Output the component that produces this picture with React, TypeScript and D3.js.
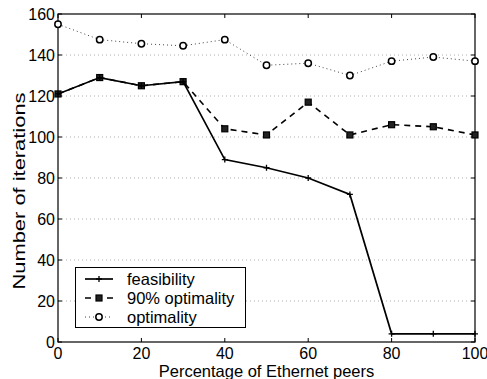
import React, { useEffect, useRef } from "react";
import * as d3 from "d3";

const percents = [0, 10, 20, 30, 40, 50, 60, 70, 80, 90, 100];
const feasibility = [121, 129, 125, 127, 89, 85, 80, 72, 4, 4, 4];
const optimality90 = [121, 129, 125, 127, 104, 101, 117, 101, 106, 105, 101];
const optimality = [155, 147.5, 145.5, 144.5, 147.5, 135, 136, 130, 137, 139, 137];
const xTicks = [0, 20, 40, 60, 80, 100];
const yTicks = [0, 20, 40, 60, 80, 100, 120, 140, 160];
const legendLabels = ["feasibility", "90% optimality", "optimality"];

const W = 487;
const H = 379;
const m = { left: 58, right: 12, top: 14, bottom: 37 };
const FONT = "'Liberation Sans', Arial, Helvetica, sans-serif";

function App() {
  const ref = useRef<SVGSVGElement>(null);

  useEffect(() => {
    const svg = d3.select(ref.current);
    svg.selectAll("*").remove();

    const x = d3.scaleLinear().domain([0, 100]).range([m.left, W - m.right]);
    const y = d3.scaleLinear().domain([0, 160]).range([H - m.bottom, m.top]);
    const x0 = x(0), x1 = x(100), y0 = y(0), y1 = y(160);

    // horizontal dotted grid
    svg
      .append("g")
      .selectAll("line")
      .data(yTicks.slice(1, -1))
      .join("line")
      .attr("x1", x0)
      .attr("x2", x1)
      .attr("y1", (d) => y(d))
      .attr("y2", (d) => y(d))
      .attr("stroke", "#999")
      .attr("stroke-width", 0.8)
      .attr("stroke-dasharray", "1,3");

    // frame
    svg
      .append("rect")
      .attr("x", x0)
      .attr("y", y1)
      .attr("width", x1 - x0)
      .attr("height", y0 - y1)
      .attr("fill", "none")
      .attr("stroke", "#000")
      .attr("stroke-width", 1.2);

    // inward ticks on all four sides
    const tk = svg.append("g").attr("stroke", "#000").attr("stroke-width", 1);
    xTicks.forEach((t) => {
      tk.append("line").attr("x1", x(t)).attr("x2", x(t)).attr("y1", y0).attr("y2", y0 - 4);
      tk.append("line").attr("x1", x(t)).attr("x2", x(t)).attr("y1", y1).attr("y2", y1 + 4);
    });
    yTicks.forEach((t) => {
      tk.append("line").attr("x1", x0).attr("x2", x0 + 4).attr("y1", y(t)).attr("y2", y(t));
      tk.append("line").attr("x1", x1).attr("x2", x1 - 4).attr("y1", y(t)).attr("y2", y(t));
    });

    // tick labels
    svg
      .append("g")
      .selectAll("text")
      .data(xTicks)
      .join("text")
      .attr("x", (d) => x(d))
      .attr("y", y0 + 17)
      .attr("text-anchor", "middle")
      .attr("font-family", FONT)
      .attr("font-size", 16)
      .text((d) => d);
    svg
      .append("g")
      .selectAll("text")
      .data(yTicks)
      .join("text")
      .attr("x", x0 - 3)
      .attr("y", (d) => y(d) + 6)
      .attr("text-anchor", "end")
      .attr("font-family", FONT)
      .attr("font-size", 16)
      .text((d) => d);

    // axis titles
    svg
      .append("text")
      .attr("x", (x0 + x1) / 2)
      .attr("y", H - 2)
      .attr("text-anchor", "middle")
      .attr("font-family", FONT)
      .attr("font-size", 16.5)
      .text("Percentage of Ethernet peers");
    // the y title is stretched along its length in the original
    svg
      .append("text")
      .attr("transform", `translate(25,191) rotate(-90)`)
      .attr("text-anchor", "middle")
      .attr("font-family", FONT)
      .attr("font-size", 17)
      .attr("textLength", 197)
      .attr("lengthAdjust", "spacingAndGlyphs")
      .text("Number of iterations");

    const mk = (vals: number[]) =>
      d3.line<number>().x((_, i) => x(percents[i])).y((v) => y(v))(vals);

    const styles = [
      { vals: optimality, dash: "1,3", width: 1, color: "#444", marker: "circle" },
      { vals: optimality90, dash: "6,5", width: 1.6, color: "#000", marker: "square" },
      { vals: feasibility, dash: null, width: 1.7, color: "#000", marker: "plus" },
    ];

    const drawMarker = (g: any, kind: string, cx: number, cy: number) => {
      if (kind === "circle") {
        g.append("circle").attr("cx", cx).attr("cy", cy).attr("r", 3.2)
          .attr("fill", "#fff").attr("stroke", "#000").attr("stroke-width", 1.5);
      } else if (kind === "square") {
        g.append("rect").attr("x", cx - 3).attr("y", cy - 3).attr("width", 6).attr("height", 6)
          .attr("fill", "#222").attr("stroke", "#000").attr("stroke-width", 1.2);
      } else {
        g.append("path").attr("d", `M${cx - 3},${cy}H${cx + 3}M${cx},${cy - 3}V${cy + 3}`)
          .attr("stroke", "#000").attr("stroke-width", 1.3);
      }
    };

    styles.forEach((s) => {
      svg.append("path")
        .attr("d", mk(s.vals))
        .attr("fill", "none")
        .attr("stroke", s.color)
        .attr("stroke-width", s.width)
        .attr("stroke-dasharray", s.dash);
      const g = svg.append("g");
      s.vals.forEach((v, i) => drawMarker(g, s.marker, x(percents[i]), y(v)));
    });

    // legend
    const lg = svg.append("g");
    lg.append("rect")
      .attr("x", 75.5).attr("y", 267.5).attr("width", 170).attr("height", 60)
      .attr("fill", "#fff").attr("stroke", "#000").attr("stroke-width", 1);
    const legendStyles = [styles[2], styles[1], styles[0]];
    legendLabels.forEach((label, i) => {
      const ly = 279 + i * 19;
      const s = legendStyles[i];
      lg.append("line").attr("x1", 85).attr("x2", 113).attr("y1", ly).attr("y2", ly)
        .attr("stroke", s.color).attr("stroke-width", s.width)
        .attr("stroke-dasharray", s.dash);
      drawMarker(lg, s.marker, 99, ly);
      lg.append("text").attr("x", 127).attr("y", ly + 5.5)
        .attr("font-family", FONT).attr("font-size", 16.5).text(label);
    });
  }, []);

  return (
    <svg
      ref={ref}
      width={W}
      height={H}
      style={{ display: "block", position: "absolute", left: 0, top: 0 }}
    />
  );
}

export default App;
